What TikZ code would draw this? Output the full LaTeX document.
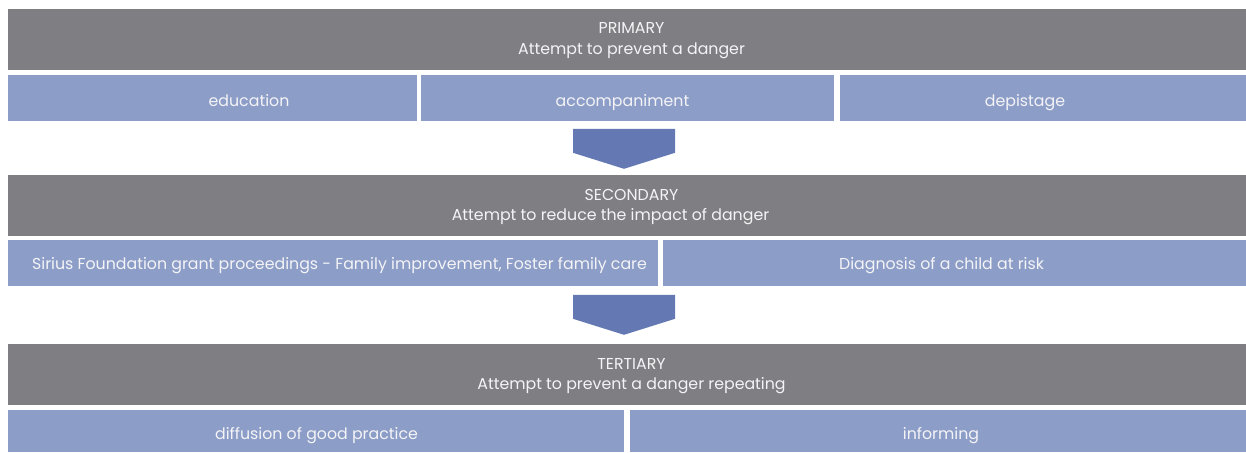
\documentclass[tikz,border=0pt]{standalone}
\usepackage{fontspec}
\setmainfont{Poppins}
\usetikzlibrary{calc}
\begin{document}
\begin{tikzpicture}[x=1pt,y=-1pt,
  hdr/.style={fill=hdrgray,draw=none,inner sep=0pt,minimum width=1238pt,minimum height=61pt},
  item/.style={fill=itemblue,draw=none,inner sep=0pt},
  txt/.style={text=txtwhite,inner sep=0pt,anchor=base,font=\fontsize{15.8}{19}\selectfont},
  chev/.style={fill=arrowblue,draw=none}]
\definecolor{hdrgray}{HTML}{7F7E83}
\definecolor{itemblue}{HTML}{8C9DC8}
\definecolor{arrowblue}{HTML}{6479B3}
\definecolor{txtwhite}{HTML}{F4F4F6}
\useasboundingbox[fill=white] (0,0) rectangle (1246,452);
% ---------- primary
\node[hdr] (prim) at (627,39.5) {};
\node[txt] (primA) at ($(prim.north)+(4.5,25)$) {PRIMARY};
\node[txt] (primB) at ($(prim.north)+(4.5,46)$) {Attempt to prevent a danger};
\node[item,minimum width=409pt,minimum height=46pt] (edu) at (212.5,98) {};
\node[item,minimum width=413pt,minimum height=46pt] (acc) at (627.5,98) {};
\node[item,minimum width=406pt,minimum height=46pt] (dep) at (1043,98) {};
\node[txt] (eduT) at (249,106.5) {education};
\node[txt] (accT) at (622.5,106.5) {accompaniment};
\node[txt] (depT) at (1025,106.5) {depistage};
% ---------- secondary
\node[hdr] (sec) at (627,205.5) {};
\node[txt] (secA) at ($(sec.north)+(4.5,26)$) {SECONDARY};
\node[txt] (secB) at ($(sec.north)+(-16.5,45.5)$) {Attempt to reduce the impact of danger};
\node[item,minimum width=650pt,minimum height=46pt] (sir) at (333,263) {};
\node[item,minimum width=583pt,minimum height=46pt] (dia) at (954.5,263) {};
\node[txt] (sirT) at (339.5,269.5) {Sirius Foundation grant proceedings - Family improvement, Foster family care};
\node[txt] (diaT) at (941.5,269.5) {Diagnosis of a child at risk};
% ---------- tertiary
\node[hdr] (ter) at (627,374.5) {};
\node[txt] (terA) at ($(ter.north)+(4.5,25.5)$) {TERTIARY};
\node[txt] (terB) at ($(ter.north)+(4.5,46)$) {Attempt to prevent a danger repeating};
\node[item,minimum width=616pt,minimum height=42pt] (dif) at (316,431) {};
\node[item,minimum width=616pt,minimum height=42pt] (inf) at (938,431) {};
\node[txt] (difT) at (316.5,439) {diffusion of good practice};
\node[txt] (infT) at (941,439) {informing};
% ---------- chevron arrows
\fill[chev] ($(sec.north)+(-54,-46)$) -- ++(102,0) -- ++(0,24) -- ($(sec.north)+(-3,-6)$) -- ($(sec.north)+(-54,-22)$) -- cycle;
\fill[chev] ($(ter.north)+(-54,-49)$) -- ++(102,0) -- ++(0,24) -- ($(ter.north)+(-3,-9)$) -- ($(ter.north)+(-54,-25)$) -- cycle;
\end{tikzpicture}
\end{document}
